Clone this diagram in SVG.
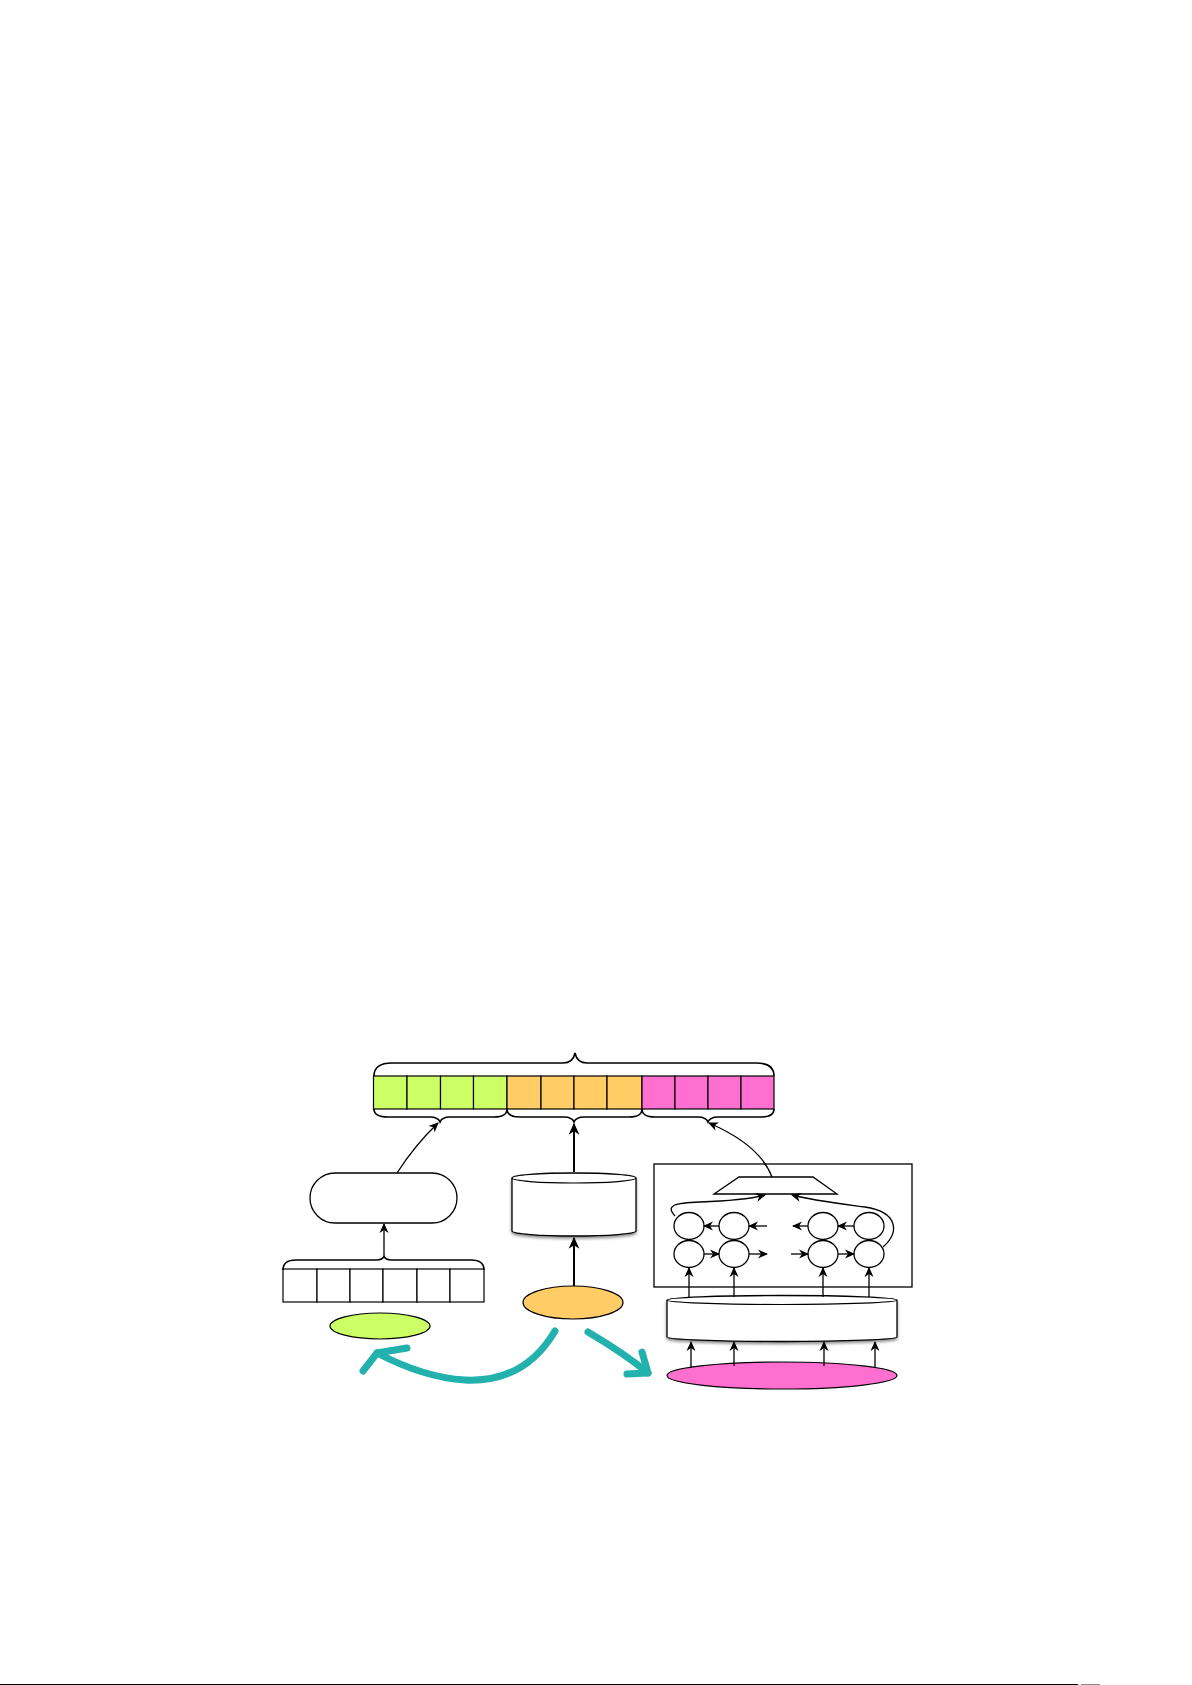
<svg xmlns="http://www.w3.org/2000/svg" width="1192" height="1685" viewBox="0 0 1192 1685">
<style>
.ln{fill:none;stroke:#000;stroke-width:1.2}
.cell{stroke:#000;stroke-width:1.2}
.br{fill:none;stroke:#000;stroke-width:1.6}
.sh{fill:#fff;stroke:#000;stroke-width:1.3}
.teal{fill:none;stroke:#22b1ad;stroke-width:7;stroke-linecap:round;stroke-linejoin:round}
.ar{fill:none;stroke:#000;stroke-width:1.3;marker-end:url(#ah)}
</style>
<defs>
<marker id="ah" viewBox="0 0 10 10" refX="9" refY="5" markerWidth="10" markerHeight="10" markerUnits="userSpaceOnUse" orient="auto">
<path d="M0,0.5 L10,5 L0,9.5 L3,5 z" fill="#000"/>
</marker>
<marker id="ah2" viewBox="0 0 10 10" refX="9" refY="5" markerWidth="12" markerHeight="12" markerUnits="userSpaceOnUse" orient="auto">
<path d="M0,0.5 L10,5 L0,9.5 L3,5 z" fill="#000"/>
</marker>
<filter id="shd" x="-10%" y="-20%" width="120%" height="150%">
<feDropShadow dx="0" dy="2" stdDeviation="1.5" flood-color="#000" flood-opacity="0.45"/>
</filter>
</defs>
<rect width="1192" height="1685" fill="#fff"/>

<g id="embedding-vector">
<rect x="373.5" y="1076" width="33.5" height="33" fill="#ccff66" class="cell"/>
<rect x="407" y="1076" width="33.5" height="33" fill="#ccff66" class="cell"/>
<rect x="440.5" y="1076" width="33" height="33" fill="#ccff66" class="cell"/>
<rect x="473.5" y="1076" width="33.5" height="33" fill="#ccff66" class="cell"/>
<rect x="507" y="1076" width="34" height="33" fill="#ffcc66" class="cell"/>
<rect x="541" y="1076" width="33" height="33" fill="#ffcc66" class="cell"/>
<rect x="574" y="1076" width="33" height="33" fill="#ffcc66" class="cell"/>
<rect x="607" y="1076" width="35" height="33" fill="#ffcc66" class="cell"/>
<rect x="642" y="1076" width="33" height="33" fill="#ff6fcf" class="cell"/>
<rect x="675" y="1076" width="33" height="33" fill="#ff6fcf" class="cell"/>
<rect x="708" y="1076" width="33" height="33" fill="#ff6fcf" class="cell"/>
<rect x="741" y="1076" width="33" height="33" fill="#ff6fcf" class="cell"/>
<path class="br" d="M374,1076 Q374,1063 392,1063 L563,1063 Q573,1063 575,1053 Q577,1063 587,1063 L756,1063 Q774,1063 774,1076"/>
<path class="br" d="M374,1109 Q374,1117 388,1117 L430,1117 Q438,1117 440,1122 Q442,1117 450,1117 L494,1117 Q507,1117 507,1109"/>
<path class="br" d="M507,1109 Q507,1117 520,1117 L564,1117 Q572,1117 574,1122 Q576,1117 584,1117 L629,1117 Q642,1117 642,1109"/>
<path class="br" d="M642,1109 Q642,1117 655,1117 L698,1117 Q706,1117 708,1122 Q710,1117 718,1117 L761,1117 Q774,1117 774,1109"/>
</g>

<g id="char-rnn">
<rect x="310" y="1173" width="147" height="50" rx="25" ry="25" class="sh"/>
</g>

<g id="char-cells">
<rect x="283" y="1269" width="34" height="33" fill="#fff" class="cell"/>
<rect x="317" y="1269" width="33" height="33" fill="#fff" class="cell"/>
<rect x="350" y="1269" width="33" height="33" fill="#fff" class="cell"/>
<rect x="383" y="1269" width="34" height="33" fill="#fff" class="cell"/>
<rect x="417" y="1269" width="33" height="33" fill="#fff" class="cell"/>
<rect x="450" y="1269" width="34" height="33" fill="#fff" class="cell"/>
<path class="br" d="M283,1270 Q283,1260 296,1260 L376,1260 Q383,1260 384,1256 Q385,1260 392,1260 L471,1260 Q484,1260 484,1270"/>
</g>

<g id="green-ellipse">
<ellipse cx="380" cy="1326" rx="50" ry="13" fill="#ccff66" stroke="#000" stroke-width="1.2"/>
</g>

<g id="lookup-cylinder" filter="url(#shd)">
<path class="sh" d="M512,1178 L512,1231 A62,5 0 0 0 636,1231 L636,1178 A62,5 0 0 0 512,1178 z"/>
<path class="ln" d="M512,1178 A62,5 0 0 0 636,1178"/>
</g>

<g id="orange-ellipse">
<ellipse cx="573" cy="1302.5" rx="50" ry="16.5" fill="#ffcc66" stroke="#000" stroke-width="1.2"/>
</g>

<g id="context-box">
<rect x="654" y="1164" width="258" height="123" fill="#fff" stroke="#000" stroke-width="1.3"/>
<polygon points="739,1177 813,1177 837,1194 714,1194" class="sh"/>
<ellipse cx="689" cy="1226" rx="15" ry="13.5" class="sh"/>
<ellipse cx="734" cy="1226" rx="15" ry="13.5" class="sh"/>
<ellipse cx="823" cy="1226" rx="15" ry="13.5" class="sh"/>
<ellipse cx="869" cy="1226" rx="15" ry="13.5" class="sh"/>
<ellipse cx="689" cy="1254" rx="15" ry="13.5" class="sh"/>
<ellipse cx="734" cy="1254" rx="15" ry="13.5" class="sh"/>
<ellipse cx="823" cy="1254" rx="15" ry="13.5" class="sh"/>
<ellipse cx="869" cy="1254" rx="15" ry="13.5" class="sh"/>
</g>

<g id="word-cylinder" filter="url(#shd)">
<path class="sh" d="M667,1300 L667,1337 A115,4.5 0 0 0 897,1337 L897,1300 A115,4.5 0 0 0 667,1300 z"/>
<path class="ln" d="M667,1300 A115,4.5 0 0 0 897,1300"/>
</g>

<g id="pink-ellipse">
<ellipse cx="782" cy="1375.5" rx="115" ry="13.5" fill="#ff6fcf" stroke="#000" stroke-width="1.2"/>
</g>

<g id="connectors">
<path class="ar" d="M397,1173 Q415,1145 438,1123"/>
<path d="M574,1172 L574,1124" fill="none" stroke="#000" stroke-width="2" marker-end="url(#ah2)"/>
<path class="ar" d="M772,1177 Q760,1145 709,1123"/>
<path class="ar" d="M384,1256 L384,1224"/>
<path d="M574,1286 L574,1238" fill="none" stroke="#000" stroke-width="2" marker-end="url(#ah2)"/>
<path class="ar" d="M719,1226 L704,1226"/>
<path class="ar" d="M767,1226 L749,1226"/>
<path class="ar" d="M808,1226 L793,1226"/>
<path class="ar" d="M854,1226 L838,1226"/>
<path class="ar" d="M704,1254 L719,1254"/>
<path class="ar" d="M749,1254 L767,1254"/>
<path class="ar" d="M791,1254 L808,1254"/>
<path class="ar" d="M838,1254 L854,1254"/>
<path class="ar" d="M675,1216 C665,1205 675,1203 700,1202 C730,1201 750,1199 765,1195"/>
<path class="ar" d="M883,1247 C900,1232 898,1212 865,1207 C835,1203 810,1200 792,1195"/>
<path class="ar" d="M689,1297 L689,1268"/>
<path class="ar" d="M734,1297 L734,1268"/>
<path class="ar" d="M823,1297 L823,1268"/>
<path class="ar" d="M869,1297 L869,1268"/>
<path class="ar" d="M691,1368 L691,1342"/>
<path class="ar" d="M734,1366 L734,1342"/>
<path class="ar" d="M824,1366 L824,1342"/>
<path class="ar" d="M875,1368 L875,1342"/>
<path class="teal" d="M555,1331 C535,1365 505,1382 465,1380 C430,1378 400,1365 377,1353"/>
<path class="teal" d="M407,1348 L377,1353 L363,1371"/>
<path class="teal" d="M588,1332 C610,1345 630,1358 648,1373"/>
<path class="teal" d="M642,1352 L648,1373 L627,1374"/>
</g>

<g id="page-edge">
<line x1="0" y1="1684.5" x2="1078" y2="1684.5" stroke="#000" stroke-width="1.2"/>
<line x1="1081" y1="1684.5" x2="1100" y2="1684.5" stroke="#888" stroke-width="1"/>
</g>
</svg>
